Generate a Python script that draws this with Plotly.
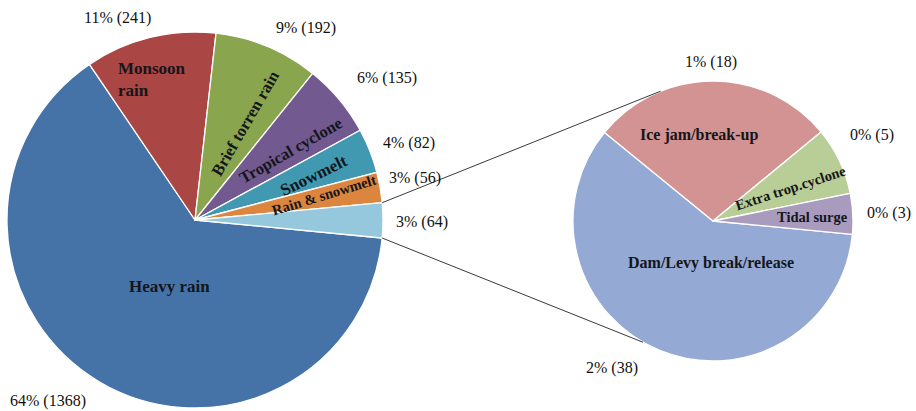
import math
import plotly.graph_objects as go

# Flood causes (main pie) and the breakdown of the small "other" slice (secondary pie)
main_labels = ["Heavy rain", "Monsoon rain", "Brief torren rain", "Tropical cyclone",
               "Snowmelt", "Rain & snowmelt", "Other"]
main_counts = [1368, 241, 192, 135, 82, 56, 64]

sub_labels = ["Dam/Levy break/release", "Ice jam/break-up", "Extra trop.cyclone", "Tidal surge"]
sub_counts = [38, 18, 5, 3]

main_colors = ["#4573A8", "#AA4643", "#89A54E", "#72598F", "#4099B1", "#DC853E", "#95C8DC"]
sub_colors = ["#94A9D3", "#D29392", "#B9CD96", "#A99BBD"]

W, H = 916, 411
grand_total = sum(main_counts)

# pie geometry (pixels): centre and radius
MAIN_C, MAIN_R = (195, 220), 188
SUB_C, SUB_R = (713, 221), 140
START = -5.5  # angle (deg, counter-clockwise from east) where the clockwise sweep begins

SERIF = "Liberation Serif, Times New Roman, serif"


def domain(c, r):
    cx, cy = c
    return dict(x=[(cx - r) / W, (cx + r) / W], y=[(H - cy - r) / H, (H - cy + r) / H])


def slice_edges(counts):
    tot = sum(counts)
    edges, acc = [], 0
    for v in counts:
        a0 = START - acc / tot * 360
        acc += v
        a1 = START - acc / tot * 360
        edges.append((a0, a1))
    return edges


def polar(c, r, ang, rf):
    cx, cy = c
    x = cx + rf * r * math.cos(math.radians(ang))
    y = cy - rf * r * math.sin(math.radians(ang))
    return x / W, 1 - y / H


def pct_label(v):
    return f"{round(100 * v / grand_total)}% ({v})"


fig = go.Figure()
for labels, counts, colors, c, r in [
    (main_labels, main_counts, main_colors, MAIN_C, MAIN_R),
    (sub_labels, sub_counts, sub_colors, SUB_C, SUB_R),
]:
    fig.add_trace(go.Pie(
        labels=labels, values=counts, sort=False, direction="clockwise",
        rotation=90 - START, textinfo="none", hoverinfo="label+value",
        marker=dict(colors=colors, line=dict(color="white", width=1.3)),
        domain=domain(c, r), showlegend=False,
    ))

annotations = []

# label placement: (angle offset from slice middle, radius fraction, text angle, font size)
main_inside = [
    ("Heavy rain", 9.9, 0.38, 0, 17),
    ("Monsoon<br>rain", 3.0, 0.78, 0, 17),
    ("Brief torren rain", -4.7, 0.58, -60, 16.5),
    ("Tropical cyclone", -3.8, 0.63, -30, 16.5),
    ("Snowmelt", -1.3, 0.675, -26, 17),
    ("Rain &amp; snowmelt", 1.0, 0.70, -17, 14.5),
    None,
]
main_outside = [(-8.5, 1.24), (7.1, 1.15), (-7.4, 1.18), (-3.3, 1.27),
                (-1.9, 1.21), (0.8, 1.19), (-0.4, 1.21)]

sub_inside = [
    ("Dam/Levy break/release", 19.7, 0.30, 0, 16),
    ("Ice jam/break-up", 9.1, 0.62, 0, 16),
    ("Extra trop.cyclone", -2.3, 0.60, -18, 14.5),
    ("Tidal surge", -0.6, 0.71, 0, 14.5),
]
sub_outside = [(-12.1, 1.27), (0.6, 1.136), (2.9, 1.29), (-0.35, 1.26)]

for counts, c, r, inside, outside in [
    (main_counts, MAIN_C, MAIN_R, main_inside, main_outside),
    (sub_counts, SUB_C, SUB_R, sub_inside, sub_outside),
]:
    for v, (a0, a1), ins, (d_out, rf_out) in zip(counts, slice_edges(counts), inside, outside):
        mid = (a0 + a1) / 2
        if ins is not None:
            txt, d, rf, ta, size = ins
            x, y = polar(c, r, mid + d, rf)
            annotations.append(dict(
                x=x, y=y, xref="paper", yref="paper", text=f"<b>{txt}</b>",
                showarrow=False, textangle=ta, align="left",
                xanchor="center", yanchor="middle",
                font=dict(family=SERIF, size=size, color="#14161c"),
            ))
        x, y = polar(c, r, mid + d_out, rf_out)
        annotations.append(dict(
            x=x, y=y, xref="paper", yref="paper", text=pct_label(v),
            showarrow=False, xanchor="center", yanchor="middle",
            font=dict(family=SERIF, size=16, color="#111111"),
        ))

# connector lines from the edges of the "other" slice to the secondary pie
other_a0, other_a1 = slice_edges(main_counts)[-1]
shapes = []
for a_main, a_sub in [(max(other_a0, other_a1), 112), (min(other_a0, other_a1), 240)]:
    x0, y0 = polar(MAIN_C, MAIN_R, a_main, 1.0)
    x1, y1 = polar(SUB_C, SUB_R, a_sub, 1.0)
    shapes.append(dict(type="line", xref="paper", yref="paper",
                       x0=x0, y0=y0, x1=x1, y1=y1,
                       line=dict(color="#3a3a3a", width=1)))

fig.update_layout(
    width=W, height=H, autosize=False,
    margin=dict(l=0, r=0, t=0, b=0),
    paper_bgcolor="white", plot_bgcolor="white",
    annotations=annotations, shapes=shapes,
)

fig.write_html("out.html")
